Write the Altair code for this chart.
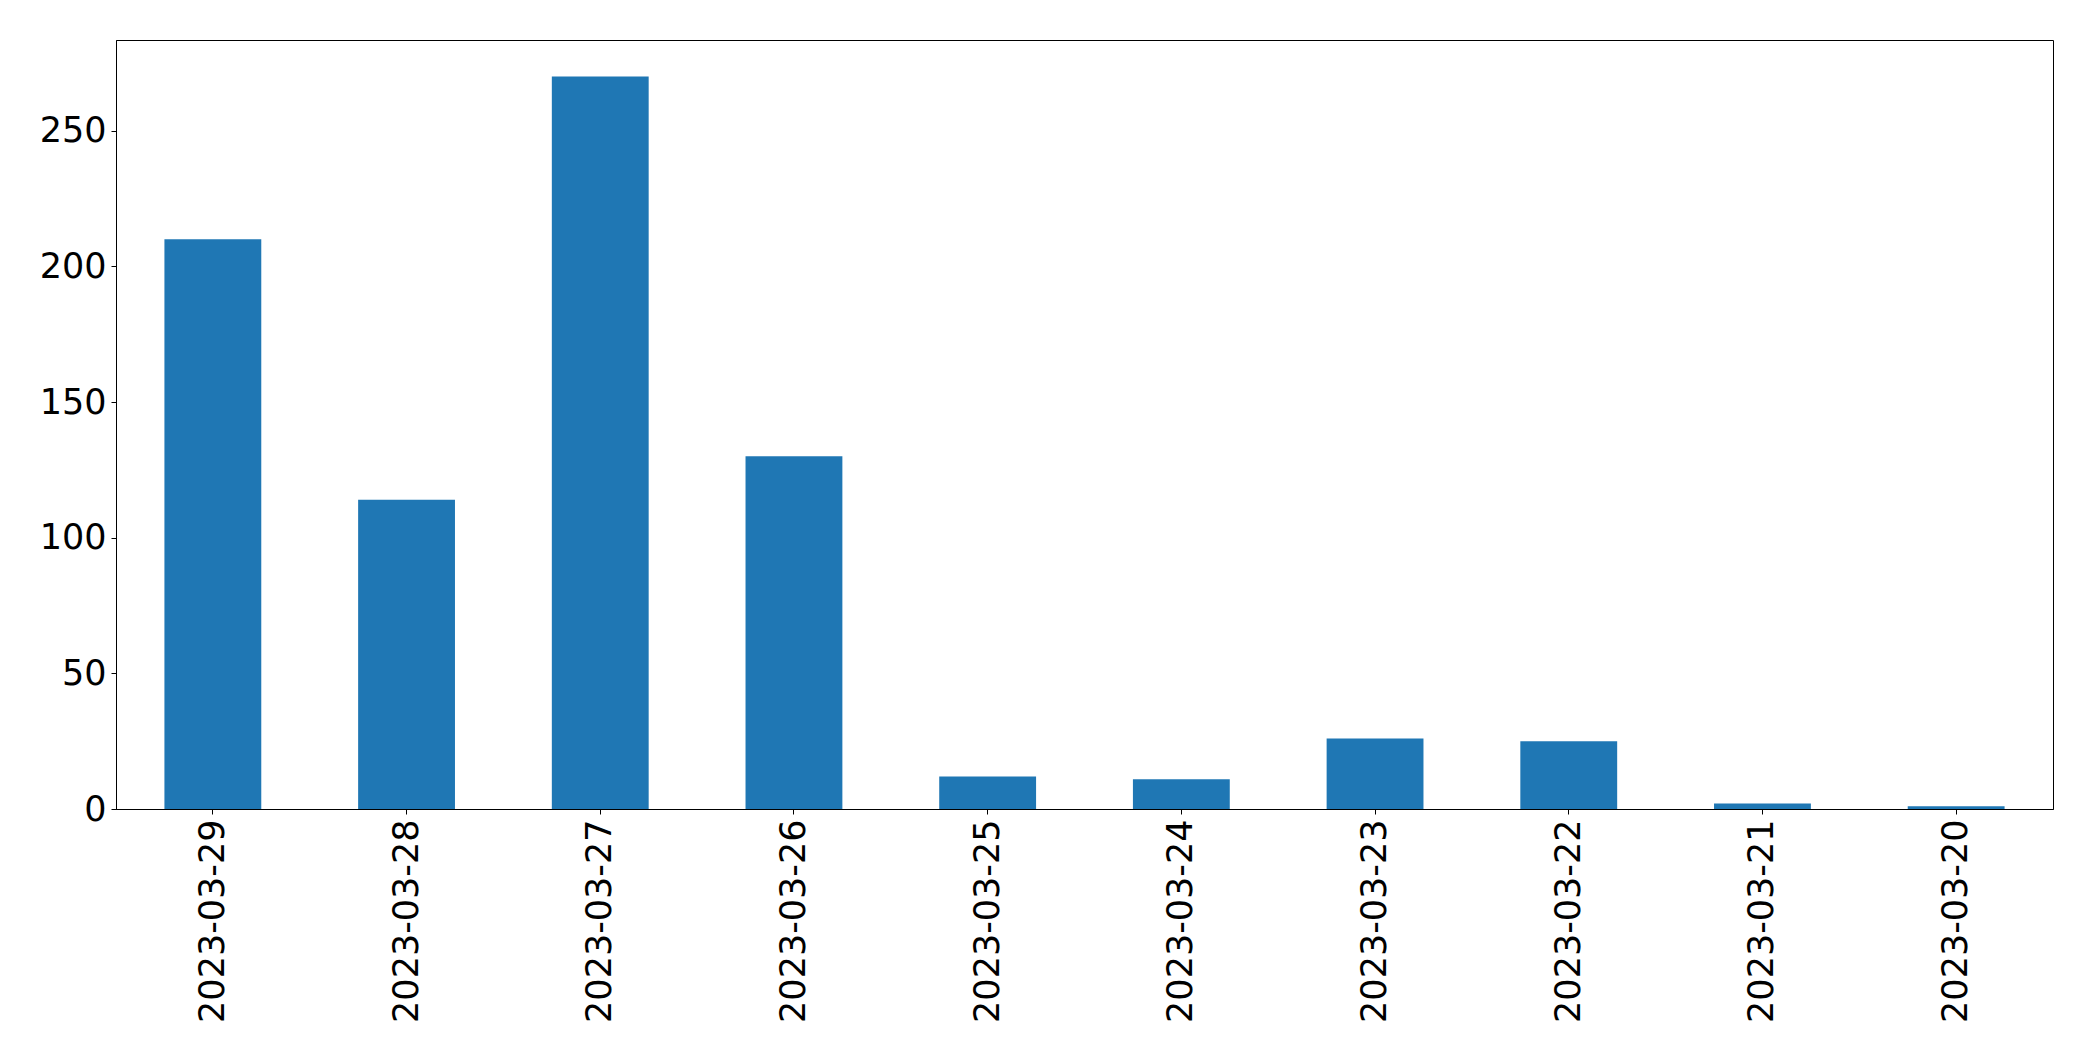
import altair as alt
import pandas as pd

dates = ["2023-03-29", "2023-03-28", "2023-03-27", "2023-03-26", "2023-03-25",
         "2023-03-24", "2023-03-23", "2023-03-22", "2023-03-21", "2023-03-20"]
counts = [210, 114, 270, 130, 12, 11, 26, 25, 2, 1]
y_ticks = [0, 50, 100, 150, 200, 250]

df = pd.DataFrame({"date": dates, "count": counts})

chart = alt.Chart(df).mark_bar(color="#1f77b4").encode(
    x=alt.X("date:N", sort=dates, title=None,
            scale=alt.Scale(paddingInner=0.5, paddingOuter=0.25),
            axis=alt.Axis(labelAngle=270, labelAlign="right", labelBaseline="middle",
                          labelFontSize=35, labelFont="DejaVu Sans", labelColor="black",
                          labelLimit=0,
                          tickColor="black", tickSize=5, labelPadding=5,
                          domainColor="black", grid=False)),
    y=alt.Y("count:Q", title=None,
            scale=alt.Scale(domain=[0, 283.5], nice=False, zero=True),
            axis=alt.Axis(values=y_ticks, labelFontSize=35, labelFont="DejaVu Sans",
                          labelColor="black", tickColor="black", tickSize=5,
                          labelPadding=5, domainColor="black", grid=False)),
).properties(
    width=1937, height=769,
    autosize=alt.AutoSizeParams(type="none"),
    padding={"left": 108, "top": 32, "right": 30, "bottom": 230},
).configure_view(stroke="black", strokeWidth=1)

chart.save("out.html", embed_options={"renderer": "svg", "actions": False})
